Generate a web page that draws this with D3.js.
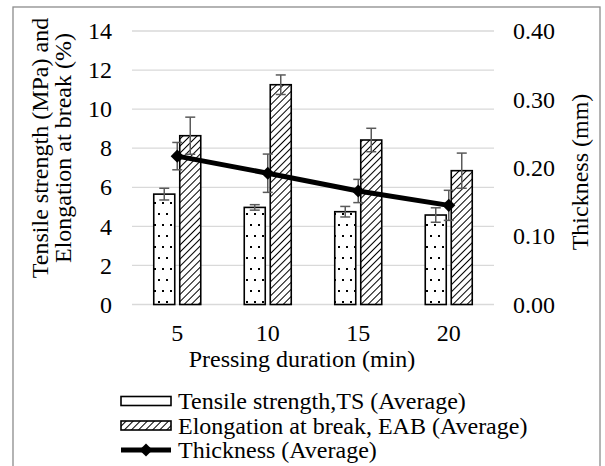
<!DOCTYPE html>
<html>
<head>
<meta charset="utf-8">
<script src="https://cdn.jsdelivr.net/npm/d3@7"></script>
<style>
  body { margin: 0; background: #fff; }
</style>
</head>
<body>
<svg id="chart" width="605" height="466"></svg>
<script>
// data
var durations = ["5", "10", "15", "20"];
var tsAvg = [5.65, 4.97, 4.75, 4.58];
var tsErr = [0.3, 0.14, 0.27, 0.37];
var eabAvg = [8.64, 11.25, 8.42, 6.85];
var eabErr = [0.95, 0.5, 0.6, 0.9];
var thickAvg = [0.217, 0.192, 0.166, 0.145];
var thickErr = [0.02, 0.028, 0.017, 0.022];
var leftTicks = [0, 2, 4, 6, 8, 10, 12, 14];
var rightTicks = [0, 0.1, 0.2, 0.3, 0.4];

var FONT = "Liberation Serif";
var fontSize = 24;

var svg = d3.select("#chart").attr("font-family", FONT);
var plot = { left: 132, right: 494, top: 31, bottom: 304.5 };

// patterns for the bars
var defs = svg.append("defs");
var dots = defs.append("pattern").attr("id", "dots")
  .attr("patternUnits", "userSpaceOnUse").attr("width", 8).attr("height", 22);
dots.append("rect").attr("width", 8).attr("height", 22).attr("fill", "#fff");
dots.append("rect").attr("x", 2).attr("y", 4).attr("width", 2).attr("height", 2).attr("fill", "#000");
dots.append("rect").attr("x", 6).attr("y", 15).attr("width", 2).attr("height", 2).attr("fill", "#000");

var hatch = defs.append("pattern").attr("id", "hatch")
  .attr("patternUnits", "userSpaceOnUse").attr("width", 5).attr("height", 5)
  .attr("patternTransform", "rotate(45)");
hatch.append("rect").attr("width", 5).attr("height", 5).attr("fill", "#fff");
hatch.append("line").attr("x1", 0).attr("y1", 0).attr("x2", 0).attr("y2", 5)
  .attr("stroke", "#000").attr("stroke-width", 2);

// outer frame
svg.append("rect").attr("x", 13).attr("y", 7).attr("width", 587).attr("height", 470)
  .attr("fill", "none").attr("stroke", "#8c8c8c").attr("stroke-width", 1.3);

var x = d3.scaleBand().domain(durations).range([plot.left, plot.right]);
var y = d3.scaleLinear().domain([0, 14]).range([plot.bottom, plot.top]);
var y2 = d3.scaleLinear().domain([0, 0.4]).range([plot.bottom, plot.top]);

// gridlines
svg.append("g").selectAll("line").data(leftTicks).join("line")
  .attr("x1", plot.left).attr("x2", plot.right)
  .attr("y1", function(d) { return y(d); }).attr("y2", function(d) { return y(d); })
  .attr("stroke", "#d9d9d9").attr("stroke-width", 1.3);

function styleAxis(g) {
  g.attr("font-family", FONT);
  g.select(".domain").remove();
  g.selectAll("text").attr("font-family", FONT).attr("font-size", fontSize).attr("fill", "#000");
}

// left axis labels
svg.append("g").attr("transform", "translate(" + plot.left + ",0)")
  .call(d3.axisLeft(y).tickValues(leftTicks).tickSize(0).tickPadding(20))
  .call(styleAxis);

// right axis labels
svg.append("g").attr("transform", "translate(" + plot.right + ",0)")
  .call(d3.axisRight(y2).tickValues(rightTicks).tickFormat(d3.format(".2f")).tickSize(0).tickPadding(19))
  .call(styleAxis);

// x axis labels
svg.append("g").attr("transform", "translate(0," + plot.bottom + ")")
  .call(d3.axisBottom(x).tickSize(0).tickPadding(19))
  .call(styleAxis);

// bars
var barW = 21, gap = 5;
var sub = d3.scaleOrdinal().domain(["ts", "eab"]).range([-(barW + gap / 2), gap / 2]);
var series = [
  { key: "ts", vals: tsAvg, errs: tsErr, fill: "url(#dots)" },
  { key: "eab", vals: eabAvg, errs: eabErr, fill: "url(#hatch)" }
];

series.forEach(function(s) {
  var g = svg.append("g");
  g.selectAll("rect").data(durations).join("rect")
    .attr("x", function(d) { return x(d) + x.bandwidth() / 2 + sub(s.key); })
    .attr("y", function(d, i) { return y(s.vals[i]); })
    .attr("width", barW)
    .attr("height", function(d, i) { return y(0) - y(s.vals[i]); })
    .attr("fill", s.fill).attr("stroke", "#000").attr("stroke-width", 1.6);
});

// error bars for the bars
series.forEach(function(s) {
  var g = svg.append("g").attr("stroke", "#5a5a5a").attr("stroke-width", 1.5);
  durations.forEach(function(d, i) {
    var cx = x(d) + x.bandwidth() / 2 + sub(s.key) + barW / 2;
    var lo = y(s.vals[i] - s.errs[i]), hi = y(s.vals[i] + s.errs[i]);
    g.append("line").attr("x1", cx).attr("x2", cx).attr("y1", lo).attr("y2", hi);
    g.append("line").attr("x1", cx - 5).attr("x2", cx + 5).attr("y1", lo).attr("y2", lo);
    g.append("line").attr("x1", cx - 5).attr("x2", cx + 5).attr("y1", hi).attr("y2", hi);
  });
});

// thickness line
var cxs = function(d) { return x(d) + x.bandwidth() / 2; };
var line = d3.line().x(function(d) { return cxs(d); })
  .y(function(d, i) { return y2(thickAvg[i]); });
svg.append("path").datum(durations).attr("d", line)
  .attr("fill", "none").attr("stroke", "#000").attr("stroke-width", 5);

var tg = svg.append("g").attr("stroke", "#5a5a5a").attr("stroke-width", 1.5);
durations.forEach(function(d, i) {
  var cx = cxs(d);
  var lo = y2(thickAvg[i] - thickErr[i]), hi = y2(thickAvg[i] + thickErr[i]);
  tg.append("line").attr("x1", cx).attr("x2", cx).attr("y1", lo).attr("y2", hi);
  tg.append("line").attr("x1", cx - 5).attr("x2", cx + 5).attr("y1", lo).attr("y2", lo);
  tg.append("line").attr("x1", cx - 5).attr("x2", cx + 5).attr("y1", hi).attr("y2", hi);
});

svg.append("g").selectAll("path").data(durations).join("path")
  .attr("d", d3.symbol(d3.symbolDiamond2, 110))
  .attr("transform", function(d, i) { return "translate(" + cxs(d) + "," + y2(thickAvg[i]) + ")"; })
  .attr("fill", "#000");

// axis titles
var leftTitle = svg.append("text")
  .attr("transform", "translate(48,148) rotate(-90)")
  .attr("text-anchor", "middle").attr("font-family", FONT)
  .attr("font-size", fontSize).attr("fill", "#000");
leftTitle.append("tspan").attr("x", 0).attr("dy", 0).text("Tensile strength (MPa) and");
leftTitle.append("tspan").attr("x", 0).attr("dy", 23).text("Elongation at break (%)");

svg.append("text")
  .attr("transform", "translate(580,172) rotate(-90)")
  .attr("text-anchor", "middle").attr("dominant-baseline", "central")
  .attr("font-family", FONT).attr("font-size", fontSize).attr("fill", "#000")
  .text("Thickness (mm)");

svg.append("text").attr("x", 302).attr("y", 367)
  .attr("text-anchor", "middle").attr("font-family", FONT)
  .attr("font-size", fontSize).attr("fill", "#000")
  .text("Pressing duration (min)");

// legend
var legendItems = [
  { label: "Tensile strength,TS (Average)", type: "box", fill: "url(#dots)" },
  { label: "Elongation at break, EAB (Average)", type: "box", fill: "url(#hatch)" },
  { label: "Thickness (Average)", type: "line" }
];
var legend = svg.append("g").attr("transform", "translate(121,401)");
legendItems.forEach(function(item, i) {
  var row = legend.append("g").attr("transform", "translate(0," + (i * 24.5) + ")");
  if (item.type === "box") {
    row.append("rect").attr("x", 0).attr("y", -4.5).attr("width", 50).attr("height", 9)
      .attr("fill", item.fill).attr("stroke", "#000").attr("stroke-width", 1.6);
  } else {
    row.append("line").attr("x1", 0).attr("x2", 50).attr("y1", 0).attr("y2", 0)
      .attr("stroke", "#000").attr("stroke-width", 5);
    row.append("path").attr("d", d3.symbol(d3.symbolDiamond2, 110))
      .attr("transform", "translate(25,0)").attr("fill", "#000");
  }
  row.append("text").attr("x", 57).attr("y", 0).attr("dominant-baseline", "central")
    .attr("font-family", FONT).attr("font-size", fontSize).attr("fill", "#000")
    .text(item.label);
});
</script>
</body>
</html>
